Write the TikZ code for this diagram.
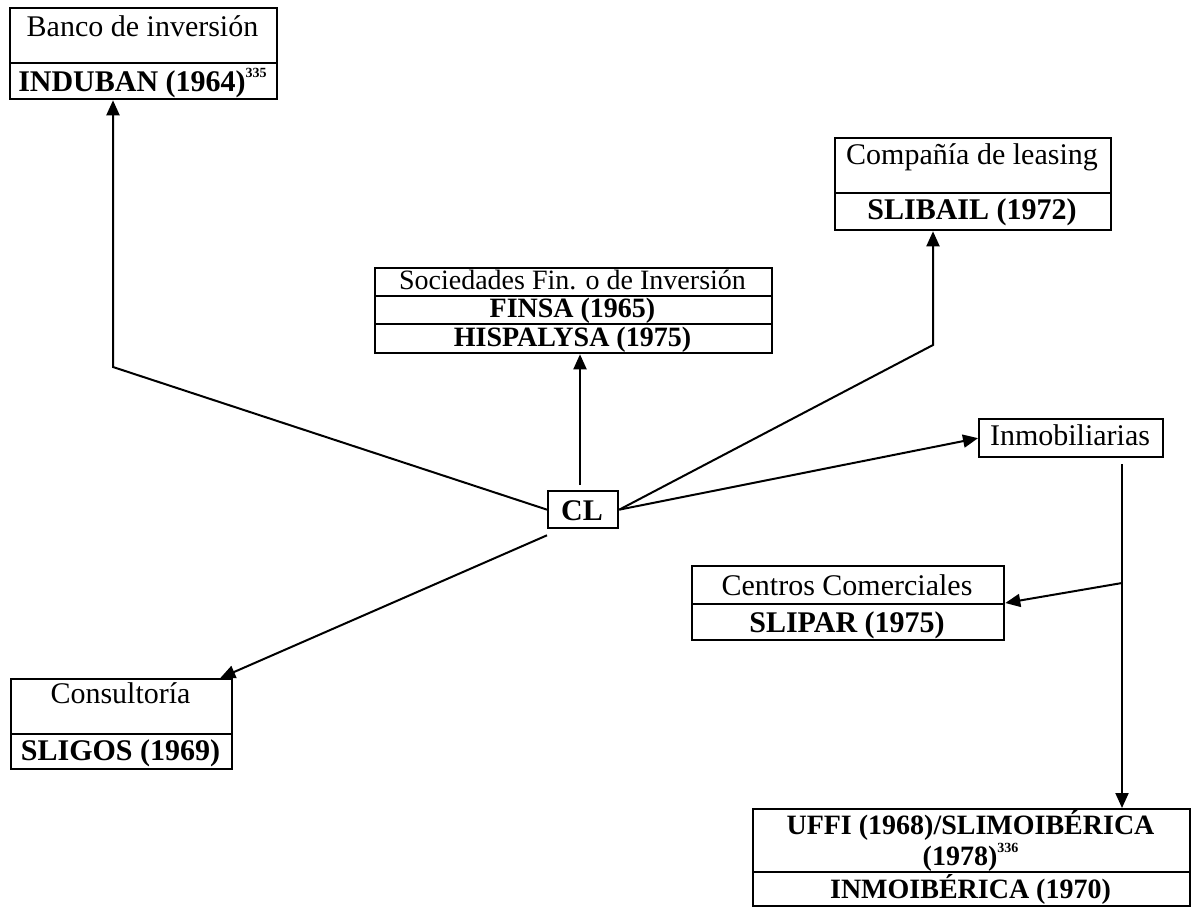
\documentclass[tikz,border=0pt]{standalone}
\usepackage{fontspec}
\setmainfont{Liberation Serif}
\usetikzlibrary{arrows.meta}
\newcommand{\supnum}[1]{\raisebox{0.45em}{\fontsize{14}{14}\selectfont #1}}
\begin{document}
\begin{tikzpicture}[x=1pt,y=-1pt,
  frame/.style={draw, line width=2.3pt, inner sep=0pt, anchor=north west},
  txt/.style={font=\fontsize{30}{34}\selectfont, inner sep=0pt, anchor=base},
  btxt/.style={font=\bfseries\fontsize{30}{34}\selectfont, inner sep=0pt, anchor=base},
  stxt/.style={font=\fontsize{28}{30}\selectfont, inner sep=0pt, anchor=base},
  sbtxt/.style={font=\bfseries\fontsize{28}{30}\selectfont, inner sep=0pt, anchor=base},
  conn/.style={line width=2pt},
  arr/.style={conn, -{Triangle[length=15pt,width=13pt]}}]
\useasboundingbox (0,0) rectangle (1191,918);

% Banco de inversion
\node[frame, minimum width=267pt, minimum height=55pt] (bancoA) at (9,7) {};
\node[frame, minimum width=267pt, minimum height=36pt] (bancoB) at (9,62) {};
\node[txt] (bancoT) at (142.5,36) {Banco de inversión};
\node[btxt] (bancoS) at (142.5,91) {INDUBAN (1964)\supnum{335}};

% Compania de leasing
\node[frame, minimum width=276pt, minimum height=55pt] (leasA) at (834,137) {};
\node[frame, minimum width=276pt, minimum height=37pt] (leasB) at (834,192) {};
\node[txt] (leasT) at (972,164) {Compañía de leasing};
\node[btxt] (leasS) at (972,219) {SLIBAIL (1972)};

% Sociedades
\node[frame, minimum width=397pt, minimum height=28pt] (socA) at (374,267) {};
\node[frame, minimum width=397pt, minimum height=28pt] (socB) at (374,295) {};
\node[frame, minimum width=397pt, minimum height=29pt] (socC) at (374,323) {};
\node[stxt] (socT) at (572.5,289) {Sociedades Fin. o de Inversión};
\node[sbtxt] (socS1) at (572.5,317.5) {FINSA (1965)};
\node[sbtxt] (socS2) at (572.5,346) {HISPALYSA (1975)};

% CL
\node[frame, minimum width=70pt, minimum height=37pt] (cl) at (547,490) {};
\node[btxt] (clT) at (582,520) {CL};

% Inmobiliarias
\node[frame, minimum width=184pt, minimum height=38pt] (inmo) at (978,418) {};
\node[txt] (inmoT) at (1070,445) {Inmobiliarias};

% Centros Comerciales
\node[frame, minimum width=312pt, minimum height=38pt] (centA) at (691,565) {};
\node[frame, minimum width=312pt, minimum height=36pt] (centB) at (691,603) {};
\node[txt] (centT) at (847,595) {Centros Comerciales};
\node[btxt] (centS) at (847,632) {SLIPAR (1975)};

% Consultoria
\node[frame, minimum width=221pt, minimum height=55pt] (consA) at (10,678) {};
\node[frame, minimum width=221pt, minimum height=35pt] (consB) at (10,733) {};
\node[txt] (consT) at (120.5,703) {Consultoría};
\node[btxt] (consS) at (120.5,760) {SLIGOS (1969)};

% UFFI / INMOIBERICA
\node[frame, minimum width=437pt, minimum height=63pt] (uffA) at (752,808) {};
\node[frame, minimum width=437pt, minimum height=34pt] (uffB) at (752,871) {};
\node[sbtxt] (uffT1) at (970.5,834) {UFFI (1968)/SLIMOIBÉRICA};
\node[sbtxt] (uffT2) at (970.5,865) {(1978)\supnum{336}};
\node[sbtxt] (uffS) at (970.5,898) {INMOIBÉRICA (1970)};

% connectors
\coordinate (b1) at (113,367);
\draw[arr] (cl.west) -- (b1) -- (b1 |- bancoB.south);
\draw[arr] ([yshift=5pt]cl.north -| 580,0) -- (580,0 |- socC.south);
\coordinate (l1) at (933,345);
\draw[arr] (cl.east) -- (l1) -- (l1 |- leasB.south);
\draw[arr] (cl.east) -- (inmo.west);
\draw[arr] ([yshift=-6pt]cl.south west) -- ([xshift=-13pt]consA.north east);
\coordinate (v1) at (1122,583);
\draw[arr] ([yshift=-6pt]inmo.south -| v1) -- (v1 |- uffA.north);
\draw[arr] (v1) -- (centB.north east);
\end{tikzpicture}
\end{document}
